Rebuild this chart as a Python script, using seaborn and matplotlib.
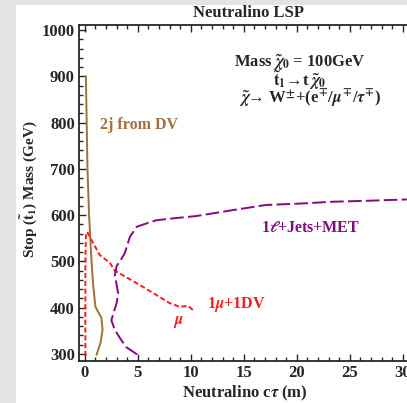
import numpy as np
import pandas as pd
import matplotlib
matplotlib.use("Agg")
import matplotlib.pyplot as plt
import seaborn as sns

# curve data (x = neutralino c*tau in m, y = stop mass in GeV)
dv2j_ctau = [0.1, 0.25, 0.4, 0.63, 0.78, 1.0, 1.57, 1.67, 1.48, 1.1]
dv2j_mass = [900, 700, 600, 500, 450, 402, 378, 352, 324, 298]

mu_dv_ctau = [0.05, 0.05, 0.05, 0.1, 0.22, 0.78, 1.4, 2.36, 2.83, 5.2, 8.0, 8.96, 9.75, 10.2]
mu_dv_mass = [296, 400, 500, 555, 564, 540, 514, 497, 480, 449, 410, 402, 404, 395]

lep_ctau = [4.94, 3.9, 3.3, 2.83, 2.5, 3.0, 3.15, 2.83, 3.0, 3.3, 3.77, 4.25, 4.9, 5.8,
            6.76, 8.3, 10.5, 14.0, 17.1, 20.3, 23.4, 26.6, 30.4, 32.0]
lep_mass = [299, 315, 335, 352, 373, 410, 431, 470, 490, 500, 518, 553, 575, 582,
            589, 593, 598, 611, 622, 625, 629, 631, 634, 635]

x_ticks = [0, 5, 10, 15, 20, 25, 30]
y_ticks = [300, 400, 500, 600, 700, 800, 900, 1000]

brown = "#a4703a"
red = "#ff1a1a"
purple = "#820a82"

sns.set_style("ticks")
plt.rcParams["font.family"] = ["Liberation Serif", "DejaVu Serif"]
plt.rcParams["font.weight"] = "bold"
plt.rcParams["mathtext.fontset"] = "stix"

fig = plt.figure(figsize=(4.07, 4.03), dpi=100, facecolor="#e4e4e4")
# white panel like the slide background
panel = plt.Rectangle((16 / 407, 0), 1, (403 - 5) / 403, transform=fig.transFigure,
                      facecolor="white", edgecolor="none", zorder=-10)
fig.patches.append(panel)

ax = fig.add_axes([79 / 407, (403 - 361) / 403, (424 - 79) / 407, (361 - 24.5) / 403])
ax.set_facecolor("white")
ax.set_zorder(1)

df_brown = pd.DataFrame({"ctau": dv2j_ctau, "mass": dv2j_mass})
df_red = pd.DataFrame({"ctau": mu_dv_ctau, "mass": mu_dv_mass})
df_purple = pd.DataFrame({"ctau": lep_ctau, "mass": lep_mass})

line_kw = dict(x="ctau", y="mass", sort=False, estimator=None, ax=ax, lw=1.4)
sns.lineplot(data=df_brown, color=brown, **line_kw)
sns.lineplot(data=df_red, color=red, linestyle=(0, (2.6, 1.4)), **line_kw)
sns.lineplot(data=df_purple, color=purple, linestyle=(0, (7, 2.2)), **line_kw)

ax.set_xlim(-0.55, 32)
ax.set_ylim(284.9, 1011.9)
ax.set_xticks(x_ticks)
ax.set_yticks(y_ticks)
ax.set_xticks(np.arange(0, 32, 1), minor=True)
ax.set_yticks(np.arange(300, 1001, 20), minor=True)
ax.tick_params(which="both", direction="in", top=True, right=False, width=1.0)
ax.tick_params(which="major", length=5, labelsize=12, pad=3)
ax.tick_params(which="minor", length=3)
for lab in ax.get_xticklabels() + ax.get_yticklabels():
    lab.set_fontweight("bold")
for side in ["left", "bottom", "top"]:
    ax.spines[side].set_linewidth(1.3)
ax.spines["right"].set_visible(False)

ax.set_xlabel(r"Neutralino c$\tau$ (m)", fontsize=12, fontweight="bold")
ax.set_ylabel(r"Stop ($\mathbf{\tilde{t}_1}$) Mass (GeV)", fontsize=11, fontweight="bold")
ax.xaxis.set_label_coords((245 - 79) / (424 - 79), -0.068)
ax.yaxis.set_label_coords(-0.115, 0.51)
fig.text(248 / 407, 1 - 13 / 403, "Neutralino LSP", ha="center", va="center",
         fontsize=12, fontweight="bold")

ax.text(20.3, 929, r"Mass $\tilde{\chi}_0$ = 100GeV", ha="center", va="center",
        fontsize=12, fontweight="bold")
ax.text(20.3, 892, r"$\mathbf{\tilde{t}_1}$→t $\tilde{\chi}_\mathbf{0}$", ha="center", va="center",
        fontsize=12, fontweight="bold")
ax.text(21.3, 855, r"$\tilde{\chi}$→ W$^{\pm}$+(e$^{\mp}$/$\mu^{\mp}$/$\tau^{\mp}$)",
        ha="center", va="center", fontsize=12, fontweight="bold")

ax.text(1.4, 795, "2j from DV", color=brown, ha="left", va="center", fontsize=11.5, fontweight="bold")
ax.text(21.3, 572, r"1$\ell$+Jets+MET", color=purple, ha="center", va="center",
        fontsize=11.5, fontweight="bold")
ax.text(11.5, 406, r"1$\mu$+1DV", color=red, ha="left", va="center", fontsize=11.5, fontweight="bold")
ax.text(8.8, 369, r"$\mu$", color=red, ha="center", va="center", fontsize=11.5)

fig.savefig("out.png", dpi=100, facecolor=fig.get_facecolor())
